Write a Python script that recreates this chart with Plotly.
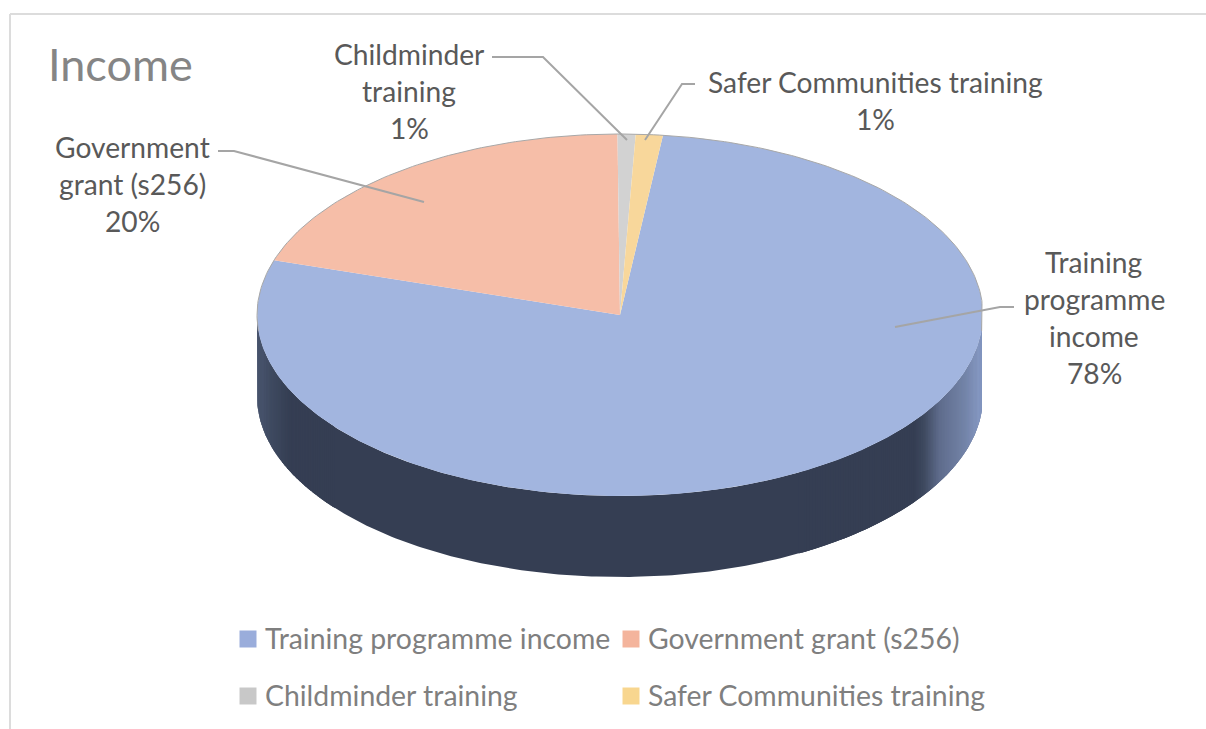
import numpy as np
import plotly.graph_objects as go

# ---- data ----
categories = ["Training programme income", "Government grant (s256)", "Childminder training", "Safer Communities training"]
values = [78.0, 20.0, 0.8, 1.2]
top_colors = ["#a2b5df", "#f6bea8", "#d2d2d2", "#f8d79b"]
legend_colors = ["#9aaddb", "#f4b49c", "#c8c8c8", "#f8d68f"]
label_lines = [["Training", "programme", "income"], ["Government", "grant (s256)"], ["Childminder", "training"], ["Safer Communities training"]]

# ---- layout constants (pixel space of the page) ----
W, H = 1206, 729
CX, CY, RX, RY, DEPTH = 620.0, 315.0, 363.0, 181.0, 81.0
CLIP_X = 982.0
FIRST_ANGLE = 6.8
label_centres = [(1094, 262), (132, 147), (409, 54), (875, 82)]
leaders = [
    [(895, 327), (1000, 307), (1014, 307)],
    [(424, 202), (234, 151), (218, 151)],
    [(627, 140), (543, 57), (492, 57)],
    [(645, 140), (682, 84), (695, 84)],
]
legend_pos = [(248, 639), (631, 639), (248, 696), (631, 696)]
LEGEND_TEXT_DX = 15
LINE_H = 37
WALL_DARK = "#353e53"


def ell(t_deg, dy=0.0):
    t = np.radians(t_deg)
    return np.minimum(CX + RX * np.sin(t), CLIP_X), CY - RY * np.cos(t) + dy


def wall_color(x):
    stops_x = [256, 272, 290, 915, 925, 940, 965, 983]
    stops_r = [0x4e, 0x3f, 0x35, 0x35, 0x3f, 0x5f, 0x73, 0x8a]
    stops_g = [0x5a, 0x4a, 0x3e, 0x3e, 0x4a, 0x6c, 0x84, 0x9d]
    stops_b = [0x75, 0x60, 0x53, 0x53, 0x60, 0x8c, 0xa8, 0xc9]
    return "rgb(%d,%d,%d)" % (np.interp(x, stops_x, stops_r), np.interp(x, stops_x, stops_g), np.interp(x, stops_x, stops_b))


fig = go.Figure()

# side wall: one dark band along the front half of the ellipse
front = np.linspace(90, 270, 241)
fx, fy = ell(front)
bx, by = ell(front[::-1], DEPTH)
fig.add_trace(go.Scatter(x=np.r_[fx, bx, fx[0]], y=np.r_[fy, by, fy[0]], mode="lines", fill="toself",
                         fillcolor=WALL_DARK, line=dict(width=0), hoverinfo="skip", showlegend=False))

# shaded ends of the wall: overlapping strips, drawn without strokes so the band keeps its outline
for rng, step in ((np.linspace(90, 150, 121), 1.0), (np.linspace(270, 232, 77), -0.75)):
    for a0 in rng[:-1]:
        a1 = a0 + step
        xa, ya = ell(a0)
        xb, yb = ell(a1)
        xa2, ya2 = ell(a0, DEPTH)
        xb2, yb2 = ell(a1, DEPTH)
        c = wall_color(xa)
        fig.add_trace(go.Scatter(
            x=[xa, xb, xb2, xa2, xa], y=[ya, yb, yb2, ya2, ya], mode="lines", fill="toself",
            fillcolor=c, line=dict(width=0), hoverinfo="skip", showlegend=False))

# top face: slices from the values
total = sum(values)
start = FIRST_ANGLE
for name, v, col in zip(categories, values, top_colors):
    sweep = v / total * 360
    ts = np.linspace(start, start + sweep, max(int(sweep * 2), 6))
    xs, ys = ell(ts)
    fig.add_trace(go.Scatter(
        x=np.r_[CX, xs, CX], y=np.r_[CY, ys, CY], mode="lines", fill="toself", fillcolor=col,
        line=dict(width=0), name=name, hovertemplate=name + ": %{customdata}%<extra></extra>",
        customdata=[v] * (len(xs) + 2), showlegend=False))
    start += sweep

# thin rim on the back edge of the top face
rim_x, rim_y = ell(np.linspace(-95, 95, 200))
fig.add_trace(go.Scatter(x=rim_x, y=rim_y, mode="lines", line=dict(color="#a8a8a8", width=1), hoverinfo="skip", showlegend=False))

# legend markers
for (lx, ly), name, col in zip(legend_pos, categories, legend_colors):
    fig.add_trace(go.Scatter(x=[lx], y=[ly], mode="markers", marker=dict(symbol="square", size=17, color=col, line=dict(width=0)),
                             name=name, hoverinfo="skip", showlegend=False))

annotations = []
FONT = "Lato, Carlito, sans-serif"
annotations.append(dict(x=46, y=64, text="Income", showarrow=False, xanchor="left", yanchor="middle",
                        font=dict(family=FONT, size=45, color="#858585")))
for lines, (cx, cy), v in zip(label_lines, label_centres, values):
    for i, t in enumerate(lines + ["%d%%" % round(v / total * 100)]):
        annotations.append(dict(x=cx, y=cy + i * LINE_H, text=t, showarrow=False, xanchor="center", yanchor="middle",
                                font=dict(family=FONT, size=28.2, color="#595959")))
for (lx, ly), name in zip(legend_pos, categories):
    annotations.append(dict(x=lx + LEGEND_TEXT_DX, y=ly - 1, text=name, showarrow=False, xanchor="left", yanchor="middle",
                            font=dict(family=FONT, size=28.4, color="#7f7f7f")))

shapes = [
    dict(type="line", x0=10, y0=14, x1=W, y1=14, line=dict(color="#dcdcdc", width=2)),
    dict(type="line", x0=10, y0=14, x1=10, y1=H, line=dict(color="#dcdcdc", width=2)),
]
for pts in leaders:
    path = "M " + " L ".join("%g,%g" % p for p in pts)
    shapes.append(dict(type="path", path=path, line=dict(color="#a5a5a5", width=2)))

fig.update_layout(
    width=W, height=H, margin=dict(l=0, r=0, t=0, b=0), paper_bgcolor="white", plot_bgcolor="white",
    xaxis=dict(range=[0, W], visible=False, fixedrange=True),
    yaxis=dict(range=[H, 0], visible=False, fixedrange=True),
    shapes=shapes, annotations=annotations, showlegend=False,
)
fig.write_html("out.html", config={"displayModeBar": False},
               post_script="document.body.style.margin='0';document.body.style.overflow='hidden';")
